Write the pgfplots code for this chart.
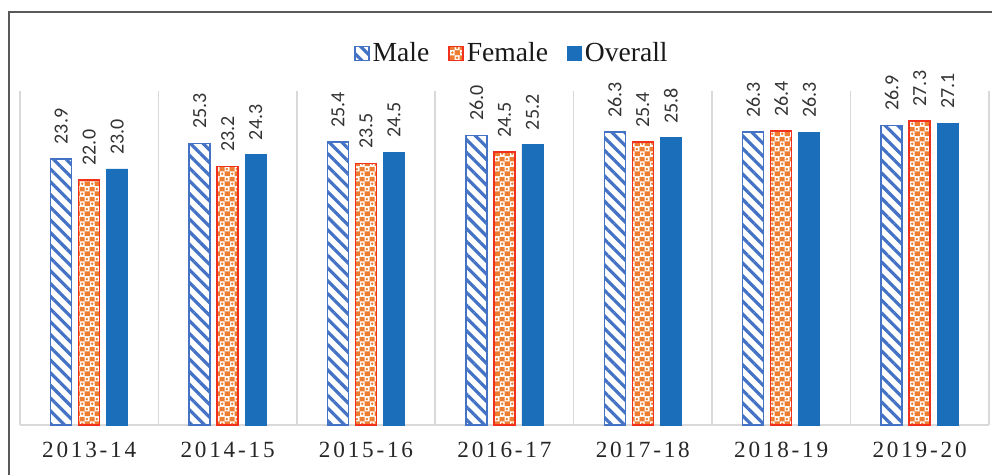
\documentclass[border=0pt]{standalone}
\usepackage{pgfplots}
\pgfplotsset{compat=1.18}
\usepackage{fontspec}
\setmainfont{Liberation Serif}
\newfontfamily\lblfont{Carlito}
\usetikzlibrary{patterns.meta}
\definecolor{mblue}{HTML}{4472C4}
\definecolor{oblue}{HTML}{1B6EB9}
\definecolor{forange}{HTML}{ED7D31}
\definecolor{fred}{HTML}{F2301E}
\tikzdeclarepattern{
  name=femchk, type=colored,
  bottom left={(0pt,0pt)}, top right={(5pt,5pt)}, tile size={(5pt,5pt)},
  code={
    \fill[forange] (0pt,0pt) rectangle (5pt,5pt);
    \fill[white] (0pt,0pt) rectangle (2.5pt,2.5pt);
    \fill[white] (2.5pt,2.5pt) rectangle (5pt,5pt);
    \fill[forange] (1.25pt,1.25pt) circle (0.75pt);
    \fill[forange] (3.75pt,3.75pt) circle (0.75pt);
  }
}
\begin{document}
\begin{tikzpicture}
\begin{axis}[
  scale only axis, width=484.4pt, height=167pt,
  xmin=-0.5, xmax=6.5, ymin=0, ymax=30,
  ybar=3.5pt, bar width=10.5pt,
  axis y line=none, axis x line*=bottom,
  axis line style={draw=black!15, line width=0.75pt},
  xtick={0,...,6},
  xticklabels={2013-14,2014-15,2015-16,2016-17,2017-18,2018-19,2019-20},
  major tick length=0pt, minor tick length=0pt,
  minor xtick={-0.5,0.5,...,6.5},
  xminorgrids,
  minor grid style={draw=black!15, line width=0.75pt},
  xticklabel style={font=\fontsize{11.6}{13}\selectfont\addfontfeature{LetterSpace=12}, text=black!85, yshift=-5pt},
  nodes near coords={\pgfmathprintnumber[fixed,fixed zerofill,precision=1]{\pgfplotspointmeta}},
  /pgf/number format/assume math mode=true,
  every node near coord/.append style={rotate=90, anchor=west, inner xsep=0pt, inner ysep=0pt, xshift=7pt,
     font=\lblfont\fontsize{10}{12}\selectfont, text=black!80},
  legend style={at={(0.5,1)}, anchor=south, yshift=9pt, xshift=4pt, draw=none,
     font=\fontsize{13.8}{15}\selectfont, text=black!90,
     /tikz/every even column/.append style={column sep=8pt},
     nodes={inner xsep=1.5pt}},
  legend columns=-1,
  legend image code/.code={\draw[#1] (0pt,-3.5pt) rectangle (7pt,3.5pt);},
  clip=false,
]
\addplot[draw=mblue, line width=0.75pt, pattern={Lines[angle=-45,distance=4.5pt,line width=1.6pt]}, pattern color=mblue]
  coordinates {(0,23.9) (1,25.3) (2,25.4) (3,26.0) (4,26.3) (5,26.3) (6,26.9)};
\addplot[draw=fred, line width=0.75pt, pattern=femchk]
  coordinates {(0,22.0) (1,23.2) (2,23.5) (3,24.5) (4,25.4) (5,26.4) (6,27.3)};
\addplot[draw=oblue, fill=oblue]
  coordinates {(0,23.0) (1,24.3) (2,24.5) (3,25.2) (4,25.8) (5,26.3) (6,27.1)};
\legend{Male,Female,Overall}
\coordinate (bl) at (rel axis cs:0,0);
\coordinate (tr) at (rel axis cs:1,1);
\end{axis}
\draw[line width=0.75pt, black!65] ([xshift=-5.5pt,yshift=-25pt]bl) -- ([xshift=-5.5pt,yshift=39.5pt]bl|-tr) -- ([xshift=1.6pt,yshift=39.5pt]tr);
\pgfresetboundingbox
\path ([xshift=-10pt,yshift=-25pt]bl) rectangle ([xshift=1.6pt,yshift=45.5pt]tr);
\end{tikzpicture}
\end{document}
